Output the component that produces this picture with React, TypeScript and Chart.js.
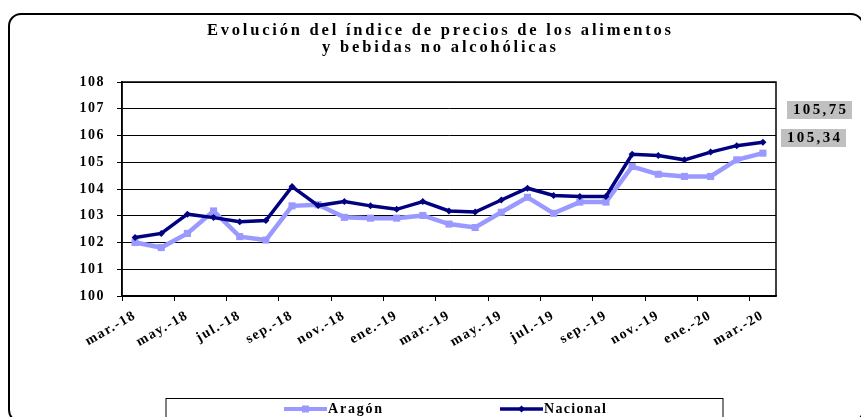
import React, { useEffect, useRef } from 'react';
import { Chart, registerables } from 'chart.js';

Chart.register(...registerables);

const months = [
  'mar.-18', 'abr.-18', 'may.-18', 'jun.-18', 'jul.-18', 'ago.-18', 'sep.-18', 'oct.-18', 'nov.-18', 'dic.-18',
  'ene.-19', 'feb.-19', 'mar.-19', 'abr.-19', 'may.-19', 'jun.-19', 'jul.-19', 'ago.-19', 'sep.-19', 'oct.-19',
  'nov.-19', 'dic.-19', 'ene.-20', 'feb.-20', 'mar.-20',
];
const aragon = [
  102.0, 101.81, 102.34, 103.18, 102.22, 102.09, 103.37, 103.41, 102.94, 102.91,
  102.91, 103.01, 102.69, 102.56, 103.13, 103.69, 103.09, 103.51, 103.51, 104.84,
  104.55, 104.47, 104.47, 105.09, 105.34,
];
const nacional = [
  102.19, 102.34, 103.06, 102.93, 102.78, 102.82, 104.09, 103.38, 103.53, 103.37,
  103.24, 103.53, 103.18, 103.14, 103.59, 104.03, 103.76, 103.72, 103.72, 105.3,
  105.25, 105.09, 105.38, 105.62, 105.75,
];
const seriesNames = ['Aragón', 'Nacional'];
const titleLines = ['Evolución del índice de precios de los alimentos', 'y bebidas no alcohólicas'];
const yMin = 100;
const yMax = 108;

const FONT = '"Liberation Serif", "Times New Roman", serif';
const C_ARAGON = '#9999FF';
const C_NACIONAL = '#000080';

const fmt = (v: number) => v.toFixed(2).replace('.', ',');

const fitText = (ctx: CanvasRenderingContext2D, text: string, target: number) => {
  (ctx as any).letterSpacing = '0px';
  const w = ctx.measureText(text).width;
  const ls = Math.max(0, (target - w) / Math.max(1, text.length - 1));
  (ctx as any).letterSpacing = ls + 'px';
  return ls;
};

const decoPlugin = {
  id: 'deco',
  beforeDraw(chart: any) {
    const ctx = chart.ctx as CanvasRenderingContext2D;
    ctx.save();
    ctx.fillStyle = '#fff';
    ctx.fillRect(0, 0, chart.width, chart.height);
    ctx.strokeStyle = '#000';
    ctx.lineWidth = 2;
    ctx.beginPath();
    (ctx as any).roundRect(9, 14, 854, 408, 12);
    ctx.stroke();
    ctx.restore();
    (ctx as any).letterSpacing = '1.5px';
  },
  afterDraw(chart: any) {
    const ctx = chart.ctx as CanvasRenderingContext2D;
    const ca = chart.chartArea;
    ctx.save();
    ctx.strokeStyle = '#000';
    ctx.lineWidth = 1.5;
    ctx.strokeRect(ca.left, ca.top, ca.right - ca.left, ca.bottom - ca.top);

    // title
    ctx.fillStyle = '#000';
    ctx.textAlign = 'left';
    ctx.textBaseline = 'middle';
    ctx.font = `bold 16.5px ${FONT}`;
    const targets = [464, 234];
    const ys = [31, 48];
    titleLines.forEach((line, i) => {
      fitText(ctx, line, targets[i]);
      ctx.fillText(line, 439 - targets[i] / 2, ys[i]);
    });

    // value boxes
    const ds = chart.data.datasets;
    const boxes = [
      { v: ds[1].data[ds[1].data.length - 1], x: 787, y: 101 },
      { v: ds[0].data[ds[0].data.length - 1], x: 781, y: 129 },
    ];
    ctx.font = `bold 15px ${FONT}`;
    boxes.forEach((b) => {
      ctx.fillStyle = '#C0C0C0';
      ctx.fillRect(b.x, b.y, 65, 18);
      ctx.fillStyle = '#000';
      const t = fmt(b.v);
      fitText(ctx, t, 53);
      ctx.fillText(t, b.x + 6, b.y + 9.5);
    });

    // legend box
    ctx.strokeStyle = '#000';
    ctx.lineWidth = 1;
    ctx.strokeRect(166, 398.5, 557, 40);
    const items = [
      { x0: 284, x1: 327, color: C_ARAGON, lw: 4, style: 'rect', tw: 54 },
      { x0: 500, x1: 543, color: C_NACIONAL, lw: 3.5, style: 'diamond', tw: 62 },
    ];
    ctx.font = `bold 14px ${FONT}`;
    items.forEach((it, i) => {
      const y = 409;
      ctx.strokeStyle = it.color;
      ctx.lineWidth = it.lw;
      ctx.beginPath();
      ctx.moveTo(it.x0, y);
      ctx.lineTo(it.x1, y);
      ctx.stroke();
      ctx.fillStyle = it.color;
      const cx = (it.x0 + it.x1) / 2;
      if (it.style === 'rect') {
        ctx.fillRect(cx - 3.5, y - 3.5, 7, 7);
      } else {
        ctx.beginPath();
        ctx.moveTo(cx, y - 3.5);
        ctx.lineTo(cx + 3.5, y);
        ctx.lineTo(cx, y + 3.5);
        ctx.lineTo(cx - 3.5, y);
        ctx.closePath();
        ctx.fill();
      }
      ctx.fillStyle = '#000';
      fitText(ctx, ds[i].label, it.tw);
      ctx.fillText(ds[i].label, it.x1 + 1, y);
    });
    ctx.restore();
  },
};

export default function App() {
  const ref = useRef<HTMLCanvasElement | null>(null);

  useEffect(() => {
    if (!ref.current) return;
    const tickFont = { family: FONT, size: 14, weight: 'bold' as const };
    const chart = new Chart(ref.current, {
      type: 'line',
      data: {
        labels: months,
        datasets: [
          {
            label: seriesNames[0],
            data: aragon,
            borderColor: C_ARAGON,
            backgroundColor: C_ARAGON,
            borderWidth: 4.5,
            pointStyle: 'rect',
            pointRadius: 5,
            pointBorderWidth: 0,
            tension: 0,
            order: 1,
          },
          {
            label: seriesNames[1],
            data: nacional,
            borderColor: C_NACIONAL,
            backgroundColor: C_NACIONAL,
            borderWidth: 3.5,
            pointStyle: 'rectRot',
            pointRadius: 3.5,
            pointBorderWidth: 0,
            tension: 0,
            order: 0,
          },
        ],
      },
      options: {
        animation: false,
        responsive: false,
        maintainAspectRatio: false,
        devicePixelRatio: 1,
        layout: { padding: { top: 82, right: 85, left: 0, bottom: 0 } },
        plugins: {
          legend: { display: false },
          tooltip: { enabled: false },
          title: { display: false },
        },
        scales: {
          x: {
            type: 'category',
            offset: true,
            grid: {
              offset: true,
              drawOnChartArea: false,
              drawTicks: true,
              tickLength: 5,
              lineWidth: 1,
              color: (c: any) => (c.index !== undefined && c.index % 2 === 0 ? '#000' : 'rgba(0,0,0,0)'),
            },
            border: { display: true, color: '#000', width: 1.5 },
            ticks: {
              autoSkip: false,
              minRotation: 30,
              maxRotation: 30,
              padding: 6,
              color: '#000',
              font: tickFont,
              callback: (_v: any, i: number) => (i % 2 === 0 ? months[i] : ''),
            },
            afterFit: (s: any) => {
              s.height = 121;
            },
          },
          y: {
            min: yMin,
            max: yMax,
            grid: { color: '#000', lineWidth: 1, tickLength: 5, drawTicks: true },
            border: { display: true, color: '#000', width: 1.5 },
            ticks: { stepSize: 1, padding: 12, color: '#000', font: tickFont },
            afterFit: (s: any) => {
              s.width = 122;
            },
          },
        },
      },
      plugins: [decoPlugin],
    });
    return () => chart.destroy();
  }, []);

  return (
    <div style={{ position: 'fixed', left: 0, top: 0, width: 861, height: 417, background: '#fff', overflow: 'hidden' }}>
      <canvas ref={ref} width={861} height={417} style={{ display: 'block', width: 861, height: 417 }} />
    </div>
  );
}
